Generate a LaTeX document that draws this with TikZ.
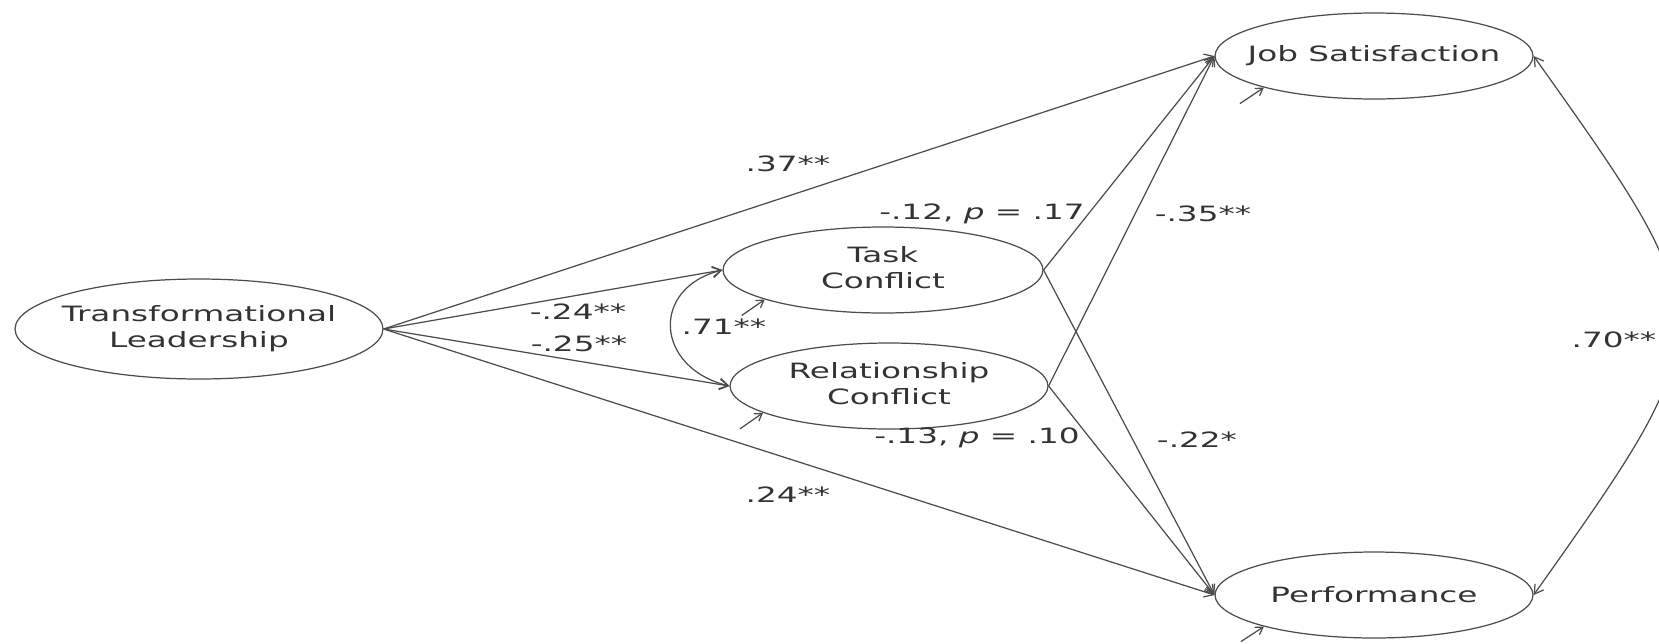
\documentclass[tikz,border=0pt]{standalone}
\usepackage{fontspec}
\setmainfont{DejaVu Sans}[FakeStretch=1.55]
\usetikzlibrary{shapes.geometric,arrows.meta}
\begin{document}
\begin{tikzpicture}[x=0.02cm,y=-0.02cm,
  latent/.style={draw=black!70, line width=0.7pt, ellipse, inner sep=0pt},
  vartext/.style={align=center, text=black!80, inner sep=0pt,
    font=\fontsize{12}{14.7}\selectfont},
  coef/.style={text=black!80, inner sep=0pt, font=\fontsize{12}{14.7}\selectfont},
  regline/.style={draw=black!70, line width=0.7pt, -{Straight Barb[length=5pt,width=6pt]}},
  covline/.style={draw=black!70, line width=0.7pt,
    {Straight Barb[length=5pt,width=6pt]}-{Straight Barb[length=5pt,width=6pt]}},
  errline/.style={draw=black!70, line width=0.7pt, -{Straight Barb[length=4pt,width=5pt]}},
]
\useasboundingbox (0,0) rectangle (1659,643);
\clip (0,0) rectangle (1659,643);

% latent variables
\node[latent, minimum width=7.36cm, minimum height=2cm]    (tl)   at (199,329)  {};
\node[latent, minimum width=6.4cm,  minimum height=1.72cm] (task) at (883,270)  {};
\node[latent, minimum width=6.36cm, minimum height=1.72cm] (rel)  at (889,386)  {};
\node[latent, minimum width=6.36cm, minimum height=1.72cm] (js)   at (1374,56)  {};
\node[latent, minimum width=6.36cm, minimum height=1.72cm] (perf) at (1374,595) {};

\node[vartext] (tltxt)   at (tl)   {Transformational\\Leadership};
\node[vartext] (tasktxt) at ([yshift=0.05cm]task) {Task\\Conflict};
\node[vartext] (reltxt)  at ([yshift=0.05cm]rel)  {Relationship\\Conflict};
\node[vartext] (jstxt)   at (js)   {Job Satisfaction};
\node[vartext] (perftxt) at (perf) {Performance};

% structural paths
\draw[regline] (tl.east) -- (js.west);
\draw[regline] (tl.east) -- (task.west);
\draw[regline] (tl.east) -- (rel.west);
\draw[regline] (tl.east) -- (perf.west);
\draw[regline] (task.east) -- (js.west);
\draw[regline] (task.east) -- (perf.west);
\draw[regline] (rel.east) -- (js.west);
\draw[regline] (rel.east) -- (perf.west);

% covariances
\draw[covline] (task.west) .. controls (650,288) and (655,368) .. (rel.west);
\draw[covline] (js.east) .. controls (1725,325) and (1725,325) .. (perf.east);

% residual arrows
\coordinate (etask) at ([shift={(-23,16)}]task.194);
\coordinate (erel)  at ([shift={(-23,16)}]rel.192);
\coordinate (ejs)   at ([shift={(-24,16)}]js.196);
\coordinate (eperf) at ([shift={(-23,15)}]perf.196);
\draw[errline] (etask) -- (task.194);
\draw[errline] (erel)  -- (rel.192);
\draw[errline] (ejs)   -- (js.196);
\draw[errline] (eperf) -- (perf.196);

% coefficients
\node[coef] (c37)  at (788,164)  {.37**};
\node[coef] (c24a) at (578,312)  {-.24**};
\node[coef] (c25)  at (579,344)  {-.25**};
\node[coef] (c71)  at (724,327)  {.71**};
\node[coef] (c24b) at (788,495)  {.24**};
\node[coef] (c12)  at (982,214)  {-.12, \textit{p} = .17};
\node[coef] (c13)  at (977,438)  {-.13, \textit{p} = .10};
\node[coef] (c35)  at (1203,214) {-.35**};
\node[coef] (c22)  at (1197,440) {-.22*};
\node[coef] (c70)  at (1614,340) {.70**};
\end{tikzpicture}
\end{document}
